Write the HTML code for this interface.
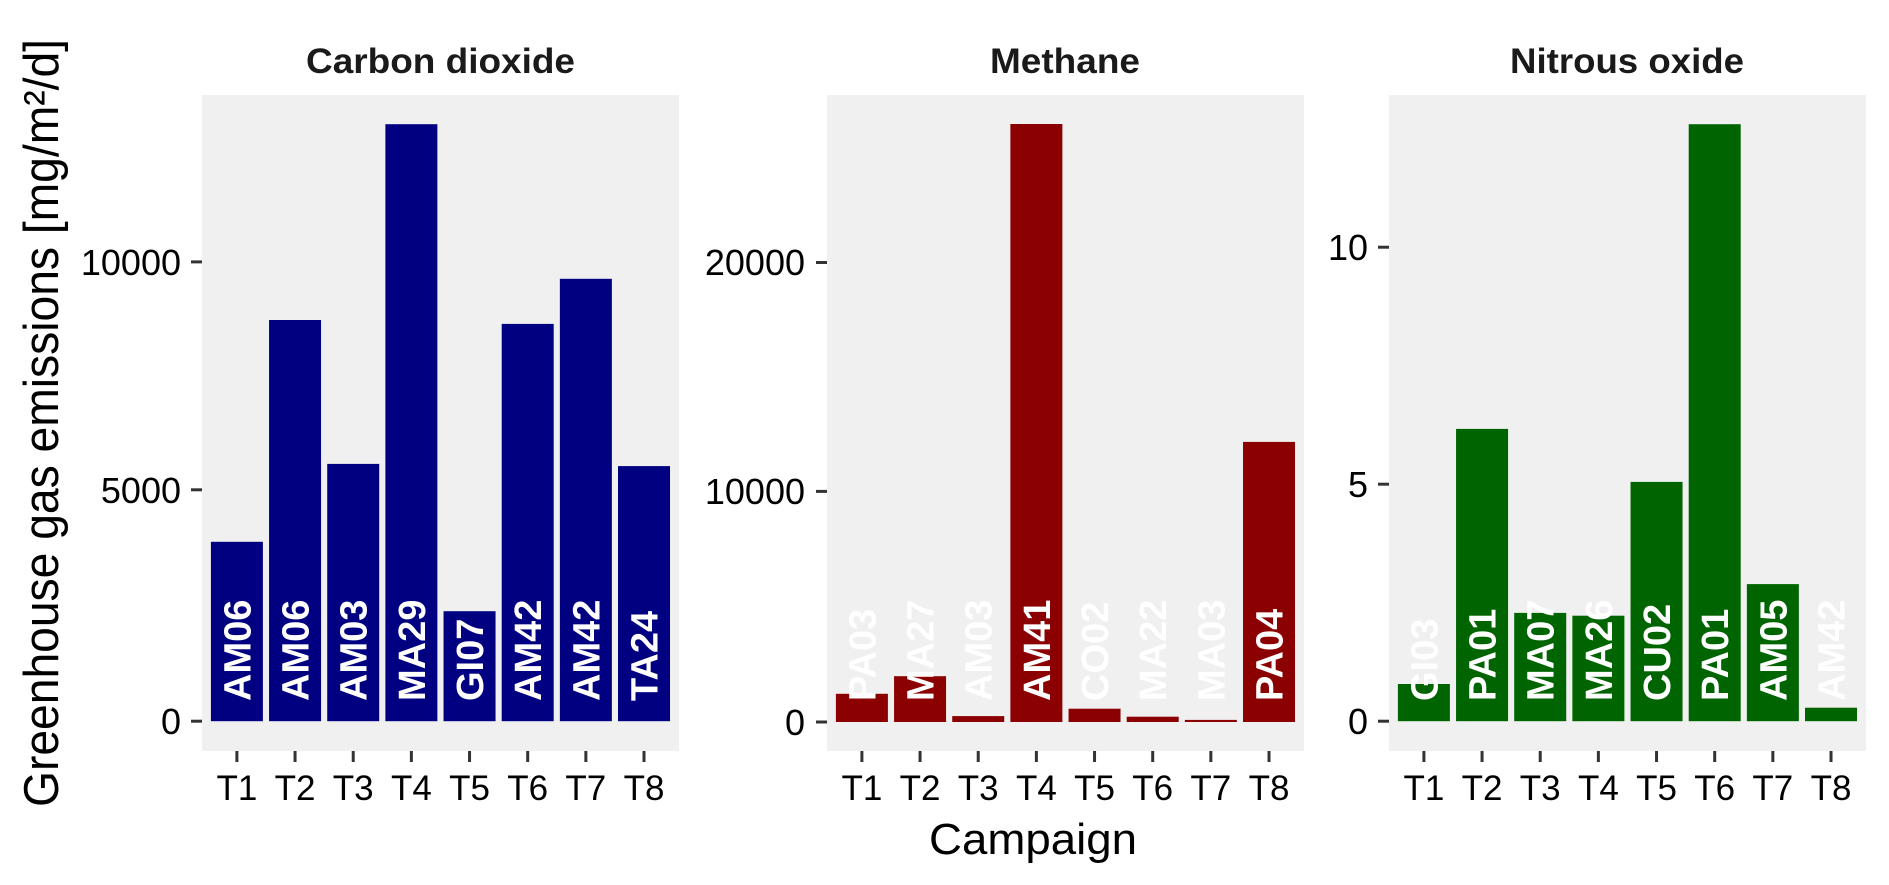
<!DOCTYPE html>
<html><head><meta charset="utf-8"><style>
html,body{margin:0;padding:0;background:#fff;}
svg{display:block;}
text{font-family:"Liberation Sans",Arial,sans-serif;}
.tt{font-weight:bold;font-size:35px;fill:#1a1a1a;}
.yt{font-size:36px;fill:#000;}
.xt{font-size:35px;fill:#000;}
.bl{font-weight:bold;font-size:38px;fill:#fff;}
</style></head><body>
<svg width="1889" height="885" viewBox="0 0 1889 885" xmlns="http://www.w3.org/2000/svg">
<rect x="202" y="95" width="477" height="656" fill="#F0F0F0"/>
<rect x="827" y="95" width="477" height="656" fill="#F0F0F0"/>
<rect x="1389" y="95" width="477" height="656" fill="#F0F0F0"/>

<text class="tt" x="440.5" y="73" text-anchor="middle" textLength="269" lengthAdjust="spacingAndGlyphs">Carbon dioxide</text>
<text class="tt" x="1065" y="73" text-anchor="middle" textLength="150" lengthAdjust="spacingAndGlyphs">Methane</text>
<text class="tt" x="1627" y="73" text-anchor="middle" textLength="234" lengthAdjust="spacingAndGlyphs">Nitrous oxide</text>

<text x="0" y="0" font-size="49" fill="#000" text-anchor="middle" textLength="768" lengthAdjust="spacingAndGlyphs" transform="translate(58,423) rotate(-90)">Greenhouse gas emissions [mg/m²/d]</text>
<text x="1033" y="854" font-size="44" fill="#000" text-anchor="middle" textLength="208" lengthAdjust="spacingAndGlyphs">Campaign</text>

<g stroke="#333" stroke-width="3">
<line x1="191" y1="721.2" x2="202" y2="721.2"/><line x1="191" y1="489.8" x2="202" y2="489.8"/><line x1="191" y1="261.9" x2="202" y2="261.9"/>
<line x1="816" y1="722" x2="827" y2="722"/><line x1="816" y1="491.4" x2="827" y2="491.4"/><line x1="816" y1="262.5" x2="827" y2="262.5"/>
<line x1="1378" y1="721.2" x2="1389" y2="721.2"/><line x1="1378" y1="484.2" x2="1389" y2="484.2"/><line x1="1378" y1="247.2" x2="1389" y2="247.2"/>
</g>
<g class="yt" text-anchor="end">
<text class="yt" x="181" y="734">0</text><text class="yt" x="181" y="503">5000</text><text class="yt" x="181" y="275">10000</text>
<text class="yt" x="805" y="735">0</text><text class="yt" x="805" y="504">10000</text><text class="yt" x="805" y="275">20000</text>
<text class="yt" x="1368" y="734">0</text><text class="yt" x="1368" y="497">5</text><text class="yt" x="1368" y="260">10</text>
</g>

<g id="bars"></g>
</svg>
<script>
(function(){
var NS="http://www.w3.org/2000/svg";
var g=document.getElementById("bars");
function el(n,a,t){var e=document.createElementNS(NS,n);for(var k in a)e.setAttribute(k,a[k]);if(t)e.textContent=t;g.appendChild(e);return e;}
var panels=[
 {left:202,zero:721.2,col:"#000080",tops:[541.8,320,463.9,124.2,611.2,323.9,278.8,466.1],lab:["AM06","AM06","AM03","MA29","GI07","AM42","AM42","TA24"]},
 {left:827,zero:722,col:"#8B0000",tops:[693.8,676.2,716.1,124,708.7,716.7,719.9,441.9],lab:["PA03","MA27","AM03","AM41","CO02","MA22","MA03","PA04"]},
 {left:1389,zero:721.2,col:"#006400",tops:[684,428.9,612.9,615.7,481.9,124.2,584.1,707.7],lab:["GI03","PA01","MA07","MA26","CU02","PA01","AM05","AM42"]}
];
panels.forEach(function(p){
 for(var i=0;i<8;i++){
  var c=p.left+34.9+58.16*i;
  el("rect",{x:c-26,y:p.tops[i],width:52,height:p.zero-p.tops[i],fill:p.col});
 }
 for(var i=0;i<8;i++){
  var c=p.left+34.9+58.16*i;
  el("text",{"class":"bl",x:0,y:0,transform:"translate("+(c+13.5)+",701) rotate(-90)"},p.lab[i]);
  el("line",{x1:c,y1:751,x2:c,y2:762,stroke:"#333","stroke-width":3});
  el("text",{"class":"xt",x:c,y:800,"text-anchor":"middle"},"T"+(i+1));
 }
});
})();
</script>
</body></html>
